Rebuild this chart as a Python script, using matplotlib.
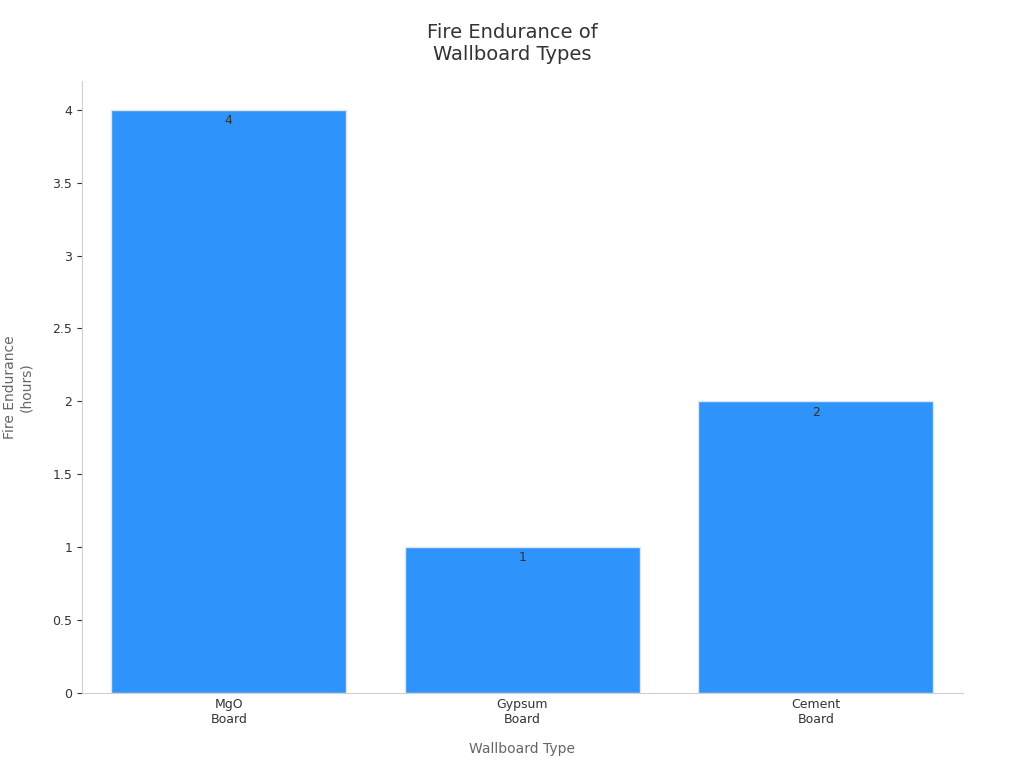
import matplotlib
matplotlib.use("Agg")
import matplotlib.pyplot as plt

categories = ["MgO\nBoard", "Gypsum\nBoard", "Cement\nBoard"]
values = [4, 1, 2]
yticks = [0, 0.5, 1, 1.5, 2, 2.5, 3, 3.5, 4]
ytick_labels = ["0", "0.5", "1", "1.5", "2", "2.5", "3", "3.5", "4"]

fig = plt.figure(figsize=(10.24, 7.68), dpi=100)
ax = fig.add_axes([0.08, 0.098, 0.86, 0.797])
x = list(range(len(categories)))
bars = ax.bar(x, values, width=0.8, color="#2e93fa", edgecolor="#dfe6ee", linewidth=1)
for xi, v in zip(x, values):
    ax.text(xi, v - 0.03, str(v), ha="center", va="top", fontsize=9, color="#333333")
ax.set_xlim(-0.5, 2.5)
ax.set_ylim(0, 4.2)
ax.set_yticks(yticks)
ax.set_yticklabels(ytick_labels)
ax.set_xticks(x)
ax.set_xticklabels(categories)
ax.tick_params(labelsize=9, colors="#333333")
ax.tick_params(axis="x", length=0)
for s in ["top", "right"]:
    ax.spines[s].set_visible(False)
for s in ["left", "bottom"]:
    ax.spines[s].set_color("#d0d0d0")
ax.set_xlabel("Wallboard Type", fontsize=10, color="#666666", labelpad=12)
ax.set_ylabel("Fire Endurance\n(hours)", fontsize=10, color="#666666", labelpad=14)
fig.suptitle("Fire Endurance of\nWallboard Types", fontsize=14, color="#333333", y=0.97)
fig.savefig("out.png")
